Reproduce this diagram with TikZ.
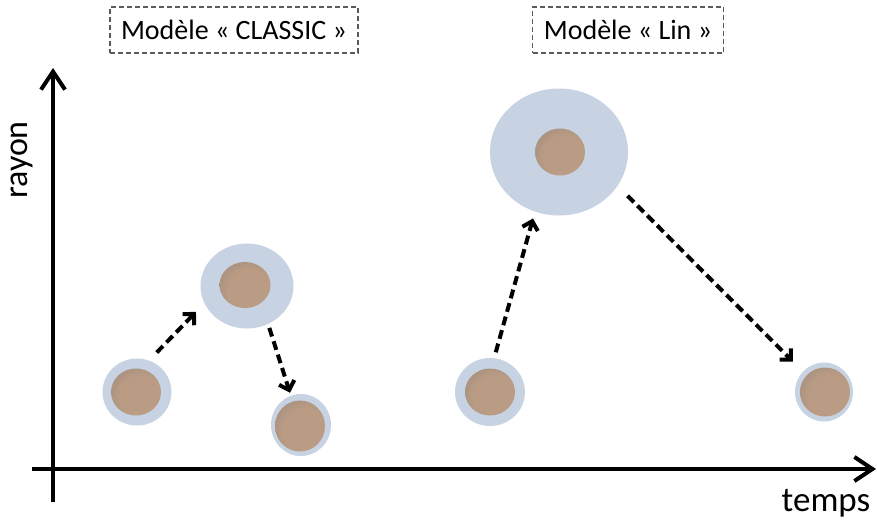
\documentclass[tikz,border=0pt]{standalone}
\usepackage{fontspec}
\setmainfont{Carlito}
\usetikzlibrary{arrows.meta,shapes.geometric}
\definecolor{ringc}{RGB}{199,211,227}
\definecolor{corein}{RGB}{186,156,132}
\definecolor{coreout}{RGB}{128,122,118}
\definecolor{boxline}{RGB}{90,90,90}
\pgfdeclareradialshading{coreshade}{\pgfpoint{9bp}{-8bp}}{color(0bp)=(corein); color(22bp)=(corein); color(52bp)=(coreout)}
\begin{document}
\begin{tikzpicture}[x=1pt,y=-1pt,
  ring/.style={ellipse, fill=ringc, draw=none, inner sep=0pt},
  corestyle/.style={ellipse, shading=coreshade, draw=none, inner sep=0pt},
  lbl/.style={draw=boxline, line width=1.1pt, dash pattern=on 5pt off 3pt,
    minimum height=46pt, inner sep=0pt, font=\fontsize{28}{32}\selectfont},
  axisline/.style={line width=4pt, -{Straight Barb[length=18pt,width=24pt]}},
  growarrow/.style={line width=4pt, dash pattern=on 9pt off 5pt,
    -{Straight Barb[length=8pt,width=16pt]}}]
\useasboundingbox (0,0) rectangle (877,522);
% axes
\coordinate (xs) at (32,469);
\coordinate (xe) at (876,469);
\coordinate (ys) at (53,502);
\coordinate (ye) at (53,68);
\draw[axisline] (xs) -- (xe);
\draw[axisline] (ys) -- (ye);
\node[anchor=base, font=\fontsize{35}{40}\selectfont] (tl) at (826,511) {temps};
\node[rotate=90, font=\fontsize{34}{40}\selectfont] (rl) at (22,160) {rayon};
% model labels
\node[lbl, minimum width=248pt] (m1) at (234,30) {Modèle « CLASSIC »};
\node[lbl, minimum width=191pt] (m2) at (628,30) {Modèle « Lin »};
% CLASSIC
\node[ring, minimum width=69pt, minimum height=67pt] (c1) at (137,392) {};
\node[corestyle, minimum width=50pt, minimum height=47pt] (k1) at (136,392) {};
\node[ring, minimum width=93pt, minimum height=85pt] (c2) at (247,286) {};
\node[corestyle, minimum width=51pt, minimum height=46pt] (k2) at (245,285) {};
\node[ring, minimum width=60pt, minimum height=62pt] (c3) at (301,425) {};
\node[corestyle, minimum width=50pt, minimum height=51pt] (k3) at (300,426) {};
% Lin
\node[ring, minimum width=70pt, minimum height=68pt] (l1) at (490,392) {};
\node[corestyle, minimum width=50pt, minimum height=47pt] (q1) at (490,392) {};
\node[ring, minimum width=138pt, minimum height=127pt] (l2) at (559,152) {};
\node[corestyle, minimum width=50pt, minimum height=47pt] (q2) at (560,152) {};
\node[ring, minimum width=58pt, minimum height=59pt] (l3) at (824,392) {};
\node[corestyle, minimum width=50pt, minimum height=49pt] (q3) at (825,392) {};
% arrows
\draw[growarrow, shorten <=11pt, shorten >=12pt] (c1.69) -- (c2.202);
\draw[growarrow, shorten <=4pt, shorten >=3pt] (c2.-61) -- (c3.109);
\draw[growarrow, shorten <=6pt, shorten >=7pt] (l1.83) -- (l2.248);
\draw[growarrow, shorten <=14pt, shorten >=14pt] (l2.-30) -- (l3.136);
\end{tikzpicture}
\end{document}
